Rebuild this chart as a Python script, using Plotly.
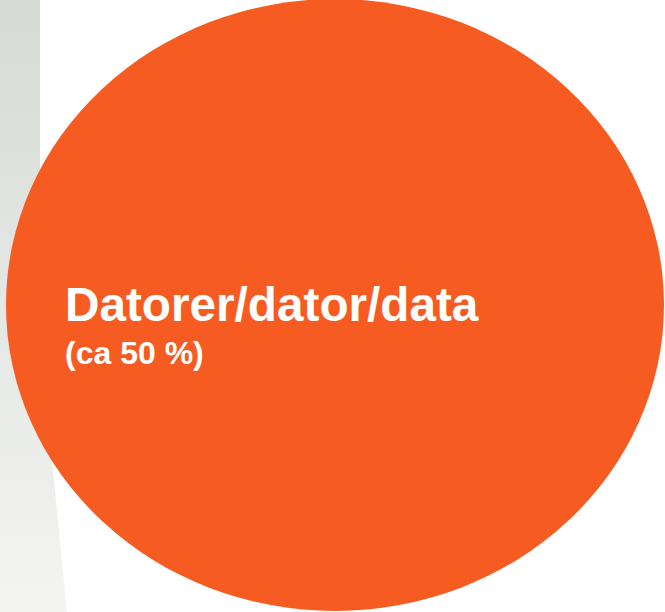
import plotly.graph_objects as go

# Data
labels = ["Datorer/dator/data"]
share_text = ["(ca 50 %)"]
share_values = [50]

W, H = 665, 612
fig = go.Figure()

# left grey panel (background decoration)
panel_x = [0, 40, 40, 52, 67, 0, 0]
panel_y = [0, 0, 200, 460, 612, 612, 0]
fig.add_trace(go.Scatter(
    x=panel_x, y=panel_y, mode="lines", fill="toself",
    line=dict(width=0, color="rgba(0,0,0,0)"),
    fillgradient=dict(type="vertical",
                      colorscale=[[0, "#F4F4F3"], [1, "#D6DBD5"]]),
    hoverinfo="skip", showlegend=False))

# the ellipse (share bubble)
fig.add_shape(type="circle", xref="x", yref="y",
              x0=6, x1=664, y0=-1, y1=611,
              fillcolor="#F65C21", line=dict(width=0), layer="above")

fig.add_annotation(x=63, y=304, xref="x", yref="y", text="<b>" + labels[0] + "</b>",
                   showarrow=False, xanchor="left", yanchor="middle",
                   font=dict(family="Liberation Sans, Arial", size=47.7, color="white"))
fig.add_annotation(x=63, y=353, xref="x", yref="y", text="<b>" + share_text[0] + "</b>",
                   showarrow=False, xanchor="left", yanchor="middle",
                   font=dict(family="Liberation Sans, Arial", size=32, color="white"))

fig.update_layout(
    width=W, height=H, margin=dict(l=0, r=0, t=0, b=0),
    paper_bgcolor="white", plot_bgcolor="white",
    xaxis=dict(range=[0, W], visible=False, fixedrange=True),
    yaxis=dict(range=[H, 0], visible=False, fixedrange=True),
    showlegend=False)

fig.write_html("out.html", config={"displayModeBar": False},
               post_script="document.body.style.margin='0';document.body.style.overflow='hidden';")
